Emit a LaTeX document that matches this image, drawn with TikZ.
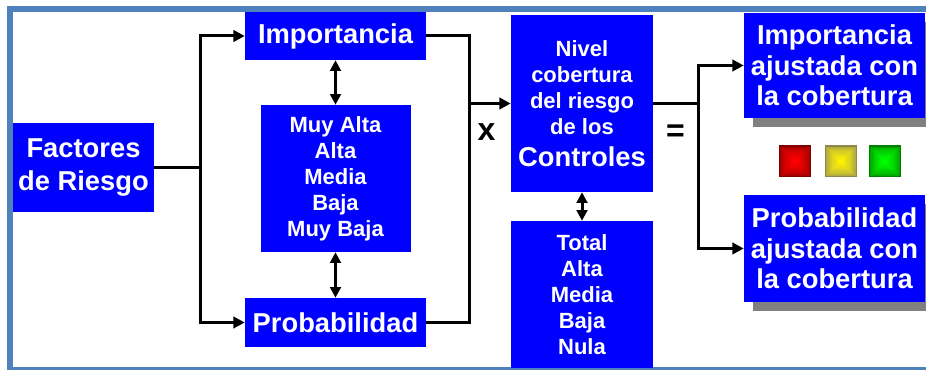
\documentclass[tikz,border=0pt]{standalone}
\usepackage{fontspec}
\setmainfont{Liberation Sans}
\usetikzlibrary{arrows.meta,shadows}
\definecolor{framebl}{RGB}{79,129,189}

\begin{document}
\begin{tikzpicture}[x=0.75pt,y=0.75pt,yscale=-1,xscale=1,
        bluebox/.style={rectangle, fill=blue, text=white, inner sep=0pt, align=center},
        bigtxt/.style={font=\bfseries\fontsize{20.5}{23}\selectfont},
        smalltxt/.style={font=\bfseries\fontsize{16.5}{19.5}\selectfont},
        opsym/.style={inner sep=0pt, font=\bfseries\fontsize{24}{28}\selectfont},
        shadowbox/.style={drop shadow={shadow xshift=6.75pt, shadow yshift=-6.75pt, fill=gray, opacity=1}},
        conn/.style={line width=2.25pt},
        arr/.style={line width=2.25pt, -{Triangle[length=8.5pt,width=8.5pt]}},
        dblarr/.style={line width=2.25pt, {Triangle[length=8pt,width=8pt]}-{Triangle[length=8pt,width=8pt]}}]
        \useasboundingbox (0,0) rectangle (926,370);
        
        %Shape: Frame
        \draw [color=framebl, line width=4.5pt] (10,9) rectangle (940,370);
        
        %Shape: Rectangle [Factores]
        \node [bluebox, bigtxt, minimum width=105.75pt, minimum height=66.75pt] (fr) at (83.5,167.5) {Factores\\[1.5pt]de Riesgo};
        %Shape: Rectangle [Importancia]
        \node [bluebox, bigtxt, minimum width=135.75pt, minimum height=36pt] (imp) at (335.5,36) {Importancia};
        %Shape: Rectangle [escala importancia]
        \node [bluebox, smalltxt, minimum width=112.5pt, minimum height=110.25pt] (escimp) at (335.5,178.5) {Muy Alta\\Alta\\Media\\Baja\\Muy Baja};
        %Shape: Rectangle [Probabilidad]
        \node [bluebox, bigtxt, minimum width=135.75pt, minimum height=36.75pt] (prob) at (335.5,322.5) {Probabilidad};
        %Shape: Rectangle [Nivel cobertura]
        \node [bluebox, smalltxt, minimum width=106.5pt, minimum height=132.75pt] (niv) at (582,103.5) {Nivel\\cobertura\\del riesgo\\de los\\[4.5pt]{\fontsize{20.5}{23}\selectfont Controles}};
        %Shape: Rectangle [escala controles]
        \node [bluebox, smalltxt, minimum width=106.5pt, minimum height=110.25pt] (escniv) at (582,294.5) {Total\\Alta\\Media\\Baja\\Nula};
        %Shape: Rectangle [Importancia ajustada]
        \node [bluebox, bigtxt, shadowbox, minimum width=135.75pt, minimum height=78.75pt] (impaj) at (834.5,65.5) {Importancia\\ajustada con\\la cobertura};
        %Shape: Rectangle [Probabilidad ajustada]
        \node [bluebox, bigtxt, shadowbox, minimum width=135.75pt, minimum height=80.25pt] (probaj) at (834.5,248.5) {Probabilidad\\ajustada con\\la cobertura};
        
        % Text Node
        \node [opsym, anchor=base] (por) at (486.5,140.5) {x};
        % Text Node
        \node [opsym] (igual) at (675.5,133) {=};
        
        %Shape: Bevel squares
        \foreach \cc/\sx in {red/795,yellow/841,green/885} {
          \foreach \k in {0,...,12} {
            \pgfmathsetmacro\pct{50+50*sqrt(\k/12)}
            \fill [\cc!\pct!black] (\sx-16+1.2*\k,145.5+1.2*\k) rectangle (\sx+16-1.2*\k,177.5-1.2*\k);
          }
        }
        
        \coordinate (j1) at (200,167.5);
        \coordinate (j2) at (469,103.5);
        \coordinate (j3) at (698,103.5);
        
        %Straight Lines
        \draw [conn] (fr.east) -- (j1);
        \draw [arr] (j1) |- (imp.west);
        \draw [arr] (j1) |- (prob.west);
        \draw [conn] (imp.east) -| (j2);
        \draw [conn] (prob.east) -| (j2);
        \draw [arr] (j2) -- (niv.west);
        \draw [conn] (niv.east) -- (j3);
        \draw [arr] (j3) |- (impaj.west);
        \draw [arr] (j3) |- (probaj.west);
        \draw [dblarr] (imp.south) -- (escimp.north);
        \draw [dblarr] (escimp.south) -- (prob.north);
        \draw [dblarr] (niv.south) -- (escniv.north);
        
\end{tikzpicture}
\end{document}
